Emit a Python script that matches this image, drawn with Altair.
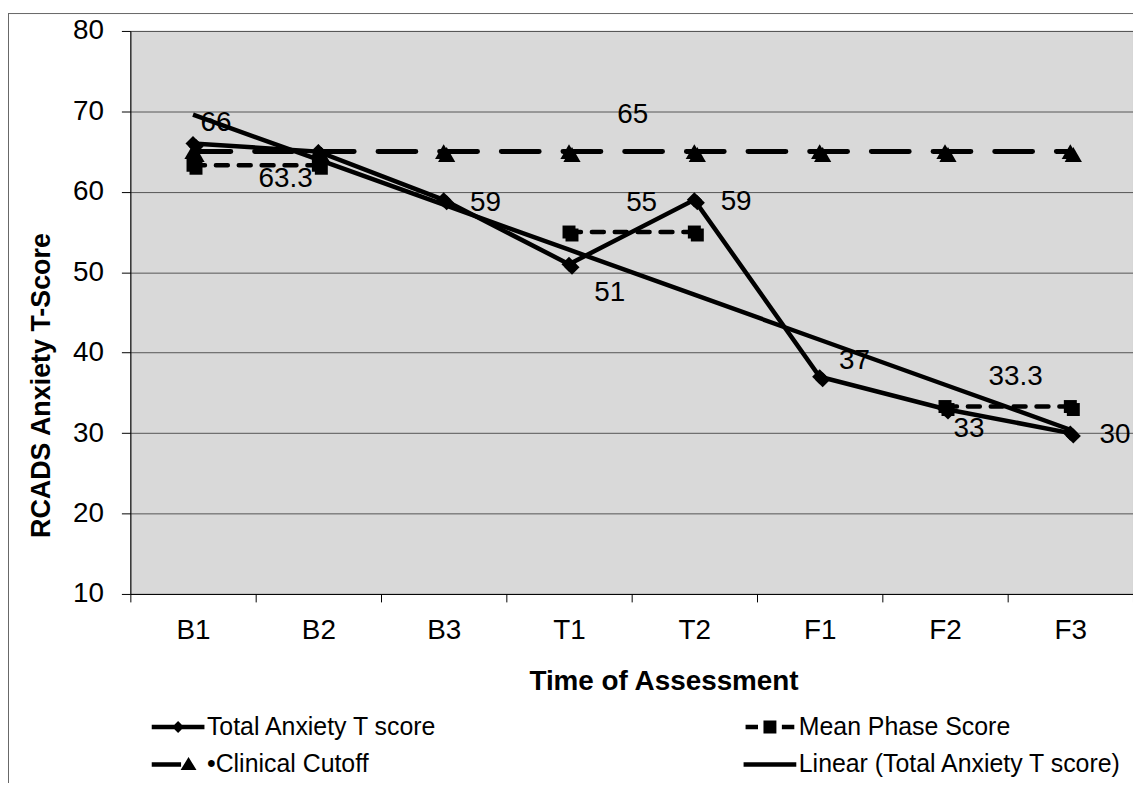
import altair as alt
import pandas as pd
import numpy as np

# ---------------- data ----------------
times = ["B1", "B2", "B3", "T1", "T2", "F1", "F2", "F3"]
total_anxiety = [66, 65, 59, 51, 59, 37, 33, 30]
mean_phase = [63.3, 63.3, None, 55, 55, None, 33.3, 33.3]
phase_group = ["Baseline", "Baseline", None, "Treatment", "Treatment", None, "Follow-up", "Follow-up"]
clinical_cutoff = [65, 65, 65, 65, 65, 65, 65, 65]
y_ticks = [10, 20, 30, 40, 50, 60, 70, 80]

S_TOTAL = "Total Anxiety T score"
S_MEAN = "Mean Phase Score"
S_CUT = "Clinical Cutoff"
S_LIN = "Linear (Total Anxiety T score)"
# legend fills column by column: col 1 = Total, Cutoff ; col 2 = Mean, Linear
legend_order = [S_TOTAL, S_CUT, S_MEAN, S_LIN]

# linear trendline of the total score (as Excel computes it)
idx = np.arange(1, len(times) + 1)
slope, intercept = np.polyfit(idx, np.array(total_anxiety, dtype=float), 1)
trend = list(slope * idx + intercept)

rows = []
for t, v in zip(times, total_anxiety):
    rows.append({"time": t, "value": v, "series": S_TOTAL, "grp": S_TOTAL})
for t, v, g in zip(times, mean_phase, phase_group):
    if v is not None:
        rows.append({"time": t, "value": v, "series": S_MEAN, "grp": g})
for t, v in zip(times, clinical_cutoff):
    rows.append({"time": t, "value": v, "series": S_CUT, "grp": S_CUT})
for t, v in zip(times, trend):
    rows.append({"time": t, "value": v, "series": S_LIN, "grp": S_LIN})
df = pd.DataFrame(rows)

FONT = "Liberation Sans"
FS = 28

x_enc = alt.X(
    "time:N",
    bandPosition=0.5,
    scale=alt.Scale(type="band", domain=times, paddingInner=0, paddingOuter=0),
    axis=alt.Axis(
        title="Time of Assessment", tickBand="extent", labelAngle=0,
        labelFontSize=FS, labelColor="black", labelPadding=15,
        tickSize=8, tickColor="black", domainColor="black", grid=False,
        titleFontSize=FS, titleFontWeight="bold", titleColor="black",
        titleX=536, titleY=96, titleBaseline="alphabetic", titleAlign="center",
    ),
)
y_enc = alt.Y(
    "value:Q",
    scale=alt.Scale(domain=[10, 80], nice=False, zero=False),
    axis=alt.Axis(
        title="RCADS Anxiety T-Score", values=y_ticks,
        labelFontSize=FS, labelColor="black", labelPadding=18,
        tickSize=9, tickColor="black", domainColor="black",
        grid=True, gridColor="#555555", gridWidth=1,
        titleFontSize=27, titleFontWeight="bold", titleColor="black",
        titleAngle=270, titleX=-89, titleY=356, titleAlign="center", titleBaseline="middle",
    ),
)

base = alt.Chart(df).encode(x=x_enc, y=y_enc)


def only(s):
    return base.transform_filter(alt.datum.series == s)


def markers(s, shape, size):
    shadow = only(s).mark_point(shape=shape, filled=True, size=size, color="black",
                                opacity=1, strokeWidth=0, xOffset=3, yOffset=3)
    main = only(s).mark_point(shape=shape, filled=True, size=size, color="black",
                              opacity=1, strokeWidth=0)
    return [shadow, main]


layers = []
# clinical cutoff
layers.append(only(S_CUT).mark_line(color="black", strokeWidth=5, strokeDash=[38, 24], strokeCap="round"))
layers += markers(S_CUT, "triangle-up", 300)
# mean phase
layers.append(only(S_MEAN).mark_line(color="black", strokeWidth=4.5, strokeDash=[12, 11], strokeCap="round")
              .encode(detail="grp:N"))
layers += markers(S_MEAN, "square", 170)
# total
layers.append(only(S_TOTAL).mark_line(color="black", strokeWidth=4.5))
layers += markers(S_TOTAL, "diamond", 230)
# trend
layers.append(only(S_LIN).mark_line(color="black", strokeWidth=4.5))

# data labels: (series, time, dx, dy)
label_specs = [
    (S_TOTAL, "B1", 23, -21),
    (S_MEAN, "B2", -33, 14),
    (S_TOTAL, "B3", 42, 3),
    (S_TOTAL, "T1", 41, 29),
    (S_MEAN, "T1", 73, -29),
    (S_TOTAL, "T2", 42, 2),
    (S_CUT, "T1", 64, -37),
    (S_TOTAL, "F1", 35, -16),
    (S_MEAN, "F2", 71, -30),
    (S_TOTAL, "F2", 24, 20),
    (S_TOTAL, "F3", 45, 2),
]
for s, t, dx, dy in label_specs:
    layers.append(
        base.transform_filter(alt.datum.series == s)
        .transform_filter(alt.datum.time == t)
        .mark_text(font=FONT, fontSize=FS, color="black", dx=dx, dy=dy,
                   align="center", baseline="middle")
        .encode(text=alt.Text("value:Q"))
    )

# legend carrier (invisible marks, custom line+marker symbols)
sym_total = "M-1,-0.22H4.3V0.22H-1Z M1.65,-0.6L2.25,0L1.65,0.6L1.05,0Z"
sym_mean = "M-0.8,-0.22H0.45V0.22H-0.8Z M1.0,-0.65H2.3V0.65H1.0Z M2.85,-0.22H4.1V0.22H2.85Z"
sym_cut = "M-1,-0.22H1.95V0.22H-1Z M2.7,-0.75L3.5,0.55H1.9Z"
sym_lin = "M-1,-0.22H4.3V0.22H-1Z"
sym_by_series = {S_TOTAL: sym_total, S_MEAN: sym_mean, S_CUT: sym_cut, S_LIN: sym_lin}

legend_layer = base.mark_point(filled=True, opacity=0, color="black").encode(
    shape=alt.Shape(
        "series:N",
        scale=alt.Scale(domain=legend_order, range=[sym_by_series[s] for s in legend_order]),
        legend=alt.Legend(
            title=None, orient="none", legendX=19, legendY=687, columns=2,
            columnPadding=304, rowPadding=12, padding=0,
            symbolSize=400, symbolFillColor="black", symbolStrokeColor="black",
            symbolStrokeWidth=0, symbolOpacity=1,
            labelFont=FONT, labelFontSize=25, labelColor="black", labelOffset=33, labelLimit=0,
            labelExpr="datum.label == 'Clinical Cutoff' ? '\u2022Clinical Cutoff' : datum.label",
        ),
    )
)
layers.append(legend_layer)

# outer frame (top and left edge of the figure border)
frame_src = alt.Chart(pd.DataFrame({"k": [0]}))
frame_top = frame_src.mark_rule(color="#666666", strokeWidth=1).encode(
    x=alt.value(-123), x2=alt.value(1010), y=alt.value(-17.5))
frame_left = frame_src.mark_rule(color="#666666", strokeWidth=1).encode(
    x=alt.value(-122.5), y=alt.value(-17.5), y2=alt.value(780))
layers += [frame_top, frame_left]

chart = alt.layer(*layers).properties(
    width=1008, height=566,
    autosize=alt.AutoSizeParams(type="none"),
    padding={"left": 123, "top": 21, "right": 0, "bottom": 188},
    background="white",
).configure_view(fill="#D9D9D9", stroke="#808080").configure_axis(
    labelFont=FONT, titleFont=FONT
)

chart.save("out.html", embed_options={"renderer": "svg", "actions": False})
